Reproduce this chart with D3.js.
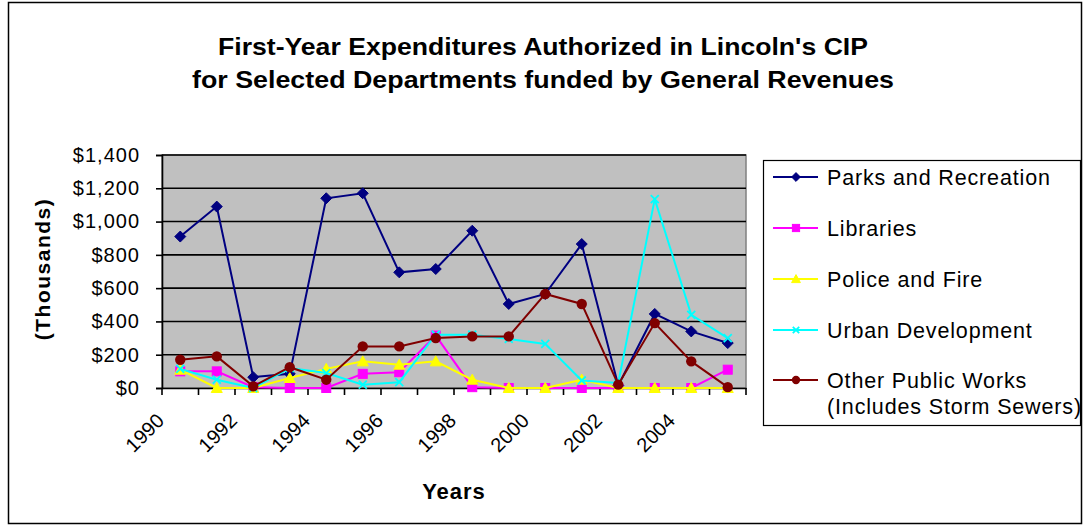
<!DOCTYPE html>
<html lang="en">
<head>
    <meta charset="utf-8">
    <title>Lincoln CIP First-Year Expenditures</title>
    <script type="text/javascript" src="https://d3js.org/d3.v7.min.js"></script>
    <style type="text/css">
        body { margin: 0; overflow: hidden; background: #fff; }
        svg { display: block; }
        text { font-family: Arial, "Liberation Sans", sans-serif; fill: #000; }
    </style>
</head>
<body>
    <script type="text/javascript">
        // Values, in thousands of dollars
        var years = ["1990", "1991", "1992", "1993", "1994", "1995", "1996", "1997",
                     "1998", "1999", "2000", "2001", "2002", "2003", "2004", "2005"];
        var yearLabels = ["1990", "1992", "1994", "1996", "1998", "2000", "2002", "2004"];
        var yTicks = [0, 200, 400, 600, 800, 1000, 1200, 1400];

        var parks     = [910, 1090, 65, 85, 1140, 1170, 695, 715, 945, 505, 565, 865, 15, 445, 340, 270];
        var libraries = [100, 100, 5, 0, 0, 85, 95, 315, 5, 0, 0, 0, 0, 0, 0, 110];
        var police    = [110, 0, 0, 60, 115, 160, 140, 160, 50, 0, 0, 50, 0, 0, 0, 0];
        var urban     = [115, 50, 0, 120, 90, 20, 35, 320, 320, 295, 265, 45, 30, 1135, 440, 300];
        var other     = [170, 190, 10, 125, 50, 250, 250, 300, 310, 310, 565, 505, 20, 390, 160, 5];

        var seriesNames = ["Parks and Recreation", "Libraries", "Police and Fire",
                           "Urban Development", "Other Public Works"];

        // series table built from the arrays above
        var series = [
            {name: seriesNames[0], values: parks,     color: "#000080", marker: "diamond"},
            {name: seriesNames[1], values: libraries, color: "#ff00ff", marker: "square"},
            {name: seriesNames[2], values: police,    color: "#ffff00", marker: "triangle"},
            {name: seriesNames[3], values: urban,     color: "#00ffff", marker: "cross"},
            {name: seriesNames[4], values: other,     color: "#800000", marker: "circle"}
        ];

        var width = 1083, height = 527;
        var plot = {left: 162, right: 746, top: 155, bottom: 388};

        var svg = d3.select("body").append("svg")
            .attr("width", width)
            .attr("height", height);

        // outer chart border
        svg.append("rect")
            .attr("x", 8.5).attr("y", 2.5)
            .attr("width", 1073).attr("height", 521)
            .attr("fill", "#fff")
            .attr("stroke", "#000").attr("stroke-width", 1.5);

        // title
        var title = svg.append("g").attr("font-weight", "bold").attr("font-size", 24);
        title.append("text")
            .attr("x", 543).attr("y", 55)
            .attr("text-anchor", "middle")
            .attr("textLength", 650).attr("lengthAdjust", "spacingAndGlyphs")
            .text("First-Year Expenditures Authorized in Lincoln's CIP");
        title.append("text")
            .attr("x", 543).attr("y", 88)
            .attr("text-anchor", "middle")
            .attr("textLength", 702).attr("lengthAdjust", "spacingAndGlyphs")
            .text("for Selected Departments funded by General Revenues");

        var x = d3.scaleBand().domain(years).range([plot.left, plot.right]);
        var y = d3.scaleLinear().domain([0, 1400]).range([plot.bottom, plot.top]);
        var cx = function(i) { return x(years[i]) + x.bandwidth() / 2; };

        // plot area
        svg.append("rect")
            .attr("x", plot.left).attr("y", plot.top)
            .attr("width", plot.right - plot.left).attr("height", plot.bottom - plot.top)
            .attr("fill", "#c0c0c0")
            .attr("stroke", "#808080").attr("stroke-width", 1.5);

        // gridlines
        svg.append("g").selectAll("line")
            .data(yTicks.slice(1))
            .enter().append("line")
            .attr("x1", plot.left).attr("x2", plot.right)
            .attr("y1", function(d) { return y(d); })
            .attr("y2", function(d) { return y(d); })
            .attr("stroke", "#000").attr("stroke-width", 1.6);

        // y axis
        var yAxis = svg.append("g")
            .attr("transform", "translate(" + plot.left + ",0)")
            .call(d3.axisLeft(y)
                .tickValues(yTicks)
                .tickSize(6)
                .tickPadding(16)
                .tickFormat(function(d) { return "$" + d3.format(",")(d); }));
        yAxis.select(".domain").attr("stroke", "#000").attr("stroke-width", 1.6);
        yAxis.selectAll(".tick line").attr("stroke", "#000").attr("stroke-width", 1.6);
        yAxis.selectAll(".tick text")
            .attr("font-size", 20)
            .attr("letter-spacing", 1)
            .attr("font-family", "Arial, 'Liberation Sans', sans-serif")
            .attr("fill", "#000");

        // x axis: labels every other year, ticks on category boundaries
        var xAxis = svg.append("g")
            .attr("transform", "translate(0," + plot.bottom + ")")
            .call(d3.axisBottom(x).tickValues(yearLabels).tickSize(0));
        xAxis.select(".domain").attr("stroke", "#000").attr("stroke-width", 1.6);
        xAxis.selectAll(".tick text")
            .attr("y", 0).attr("dy", 0)
            .attr("text-anchor", "end")
            .attr("transform", "translate(-15,34) rotate(-45)")
            .attr("font-size", 20)
            .attr("font-family", "Arial, 'Liberation Sans', sans-serif")
            .attr("fill", "#000");
        var bounds = years.map(function(d) { return x(d); }).concat([plot.right]);
        xAxis.append("g").selectAll("line")
            .data(bounds)
            .enter().append("line")
            .attr("x1", function(d) { return d; }).attr("x2", function(d) { return d; })
            .attr("y1", 0).attr("y2", 7)
            .attr("stroke", "#000").attr("stroke-width", 1.6);

        // axis titles
        svg.append("text")
            .attr("x", 454).attr("y", 499)
            .attr("text-anchor", "middle")
            .attr("font-weight", "bold").attr("font-size", 22)
            .attr("letter-spacing", 1)
            .text("Years");
        svg.append("text")
            .attr("transform", "translate(50,269) rotate(-90)")
            .attr("text-anchor", "middle")
            .attr("font-weight", "bold").attr("font-size", 21)
            .attr("letter-spacing", 1.5)
            .text("(Thousands)");

        // marker drawing
        function drawMarker(g, type, color, s) {
            if (type === "diamond") {
                g.append("path").attr("d", "M0," + (-5.5 * s) + "L" + (5.5 * s) + ",0L0," + (5.5 * s) + "L" + (-5.5 * s) + ",0Z")
                    .attr("fill", color).attr("stroke", color);
            } else if (type === "square") {
                g.append("rect").attr("x", -4.5 * s).attr("y", -4.5 * s)
                    .attr("width", 9 * s).attr("height", 9 * s)
                    .attr("fill", color).attr("stroke", color);
            } else if (type === "triangle") {
                g.append("path").attr("d", "M0," + (-5.5 * s) + "L" + (5.5 * s) + "," + (4.5 * s) + "L" + (-5.5 * s) + "," + (4.5 * s) + "Z")
                    .attr("fill", color).attr("stroke", color);
            } else if (type === "cross") {
                g.append("path").attr("d", "M" + (-4 * s) + "," + (-4 * s) + "L" + (4 * s) + "," + (4 * s) +
                    "M" + (4 * s) + "," + (-4 * s) + "L" + (-4 * s) + "," + (4 * s))
                    .attr("fill", "none").attr("stroke", color).attr("stroke-width", 1.8);
            } else {
                g.append("circle").attr("r", 5.2 * s).attr("fill", color);
            }
        }

        var line = d3.line()
            .x(function(d, i) { return cx(i); })
            .y(function(d) { return y(d); });

        series.forEach(function(s) {
            var g = svg.append("g");
            g.append("path")
                .attr("d", line(s.values))
                .attr("fill", "none")
                .attr("stroke", s.color)
                .attr("stroke-width", 2);
            g.selectAll("g.pt")
                .data(s.values)
                .enter().append("g")
                .attr("class", "pt")
                .attr("transform", function(d, i) { return "translate(" + cx(i) + "," + y(d) + ")"; })
                .each(function() { drawMarker(d3.select(this), s.marker, s.color, 1); });
        });

        // legend
        var legend = svg.append("g");
        legend.append("rect")
            .attr("x", 763.5).attr("y", 160.5)
            .attr("width", 317).attr("height", 265)
            .attr("fill", "#fff")
            .attr("stroke", "#000").attr("stroke-width", 1.2);
        var legendY = [177, 228, 279, 330, 380];
        series.forEach(function(s, i) {
            var item = legend.append("g").attr("transform", "translate(0," + legendY[i] + ")");
            item.append("line")
                .attr("x1", 773).attr("x2", 818)
                .attr("stroke", s.color).attr("stroke-width", 2);
            drawMarker(item.append("g").attr("transform", "translate(796,0)"), s.marker, s.color, 0.8);
            var t = item.append("text")
                .attr("x", 827).attr("y", 7.5)
                .attr("font-size", 21.5)
                .attr("letter-spacing", 0.85);
            t.append("tspan").text(s.name);
            if (i === 4) {
                t.append("tspan").attr("x", 827).attr("dy", 26).text("(Includes Storm Sewers)");
            }
        });
    </script>
</body>
</html>
